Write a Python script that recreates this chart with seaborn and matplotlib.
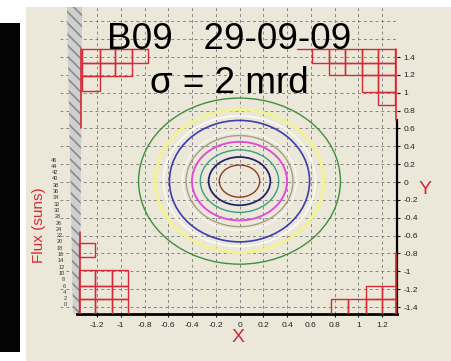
import numpy as np
import pandas as pd
import matplotlib
matplotlib.use("Agg")
import matplotlib.pyplot as plt
import seaborn as sns
from matplotlib.patches import Ellipse, Polygon, Rectangle

# ---------------- data ----------------
title_text = "B09   29-09-09"
subtitle_text = "\u03c3 = 2 mrd"
x_ticks = [-1.2, -1.0, -0.8, -0.6, -0.4, -0.2, 0.0, 0.2, 0.4, 0.6, 0.8, 1.0, 1.2]
y_ticks = [-1.4, -1.2, -1.0, -0.8, -0.6, -0.4, -0.2, 0.0, 0.2, 0.4, 0.6, 0.8, 1.0, 1.2, 1.4]
y_extra_grid = [1.6, 1.8]
flux_ticks = list(range(0, 47, 2))

# contour rings, outer -> inner
contour_colors = ["#3f8f3f", "#f3f196", "#fbfbf4", "#3c3cb4", "#f6f6f0",
                  "#a89c84", "#e04ed8", "#3c9c84", "#24246c", "#8c3c24"]
contour_widths = [1.0, 2.2, 1.2, 1.2, 1.0, 1.0, 1.4, 1.0, 1.3, 1.0]
contour_rx = [0.85, 0.71, 0.64, 0.59, 0.48, 0.45, 0.40, 0.33, 0.26, 0.17]
contour_ry = [0.93, 0.80, 0.73, 0.68, 0.55, 0.51, 0.44, 0.35, 0.27, 0.18]
contour_center = (0.0, 0.01)

# corner projection "lego" histograms (column edges, row levels, cells per column)
tr_edges = [0.611, 0.754, 0.888, 1.032, 1.166, 1.309]
tr_rows = [1.49, 1.333, 1.198, 1.008, 0.862]
tr_cells = [1, 2, 2, 3, 4]

tl_edges = [-1.326, -1.175, -1.048, -0.905, -0.771]
tl_rows = [1.49, 1.333, 1.187, 1.019]
tl_cells = [3, 2, 2, 1]

bl_edges = [-1.352, -1.217, -1.074, -0.939]
bl_rows = [-1.478, -1.31, -1.164, -0.985]
bl_cells = [3, 3, 3]

br_edges = [0.771, 0.914, 1.065, 1.2, 1.326]
br_rows = [-1.478, -1.31, -1.164]
br_cells = [1, 1, 2, 2]

RED = "#d42a35"
BEIGE = "#ebe8da"

# ---------------- figure ----------------
sns.set_theme(style="white")
plt.rcParams["font.family"] = ["Liberation Sans", "DejaVu Sans"]
plt.rcParams["hatch.linewidth"] = 1.2

fig = plt.figure(figsize=(4.52, 3.61), dpi=100)
fig.patch.set_facecolor("white")
# background panels
fig.patches.append(Rectangle((26 / 452, 0), 1 - 26 / 452, 1 - 7 / 361,
                             transform=fig.transFigure, facecolor=BEIGE,
                             edgecolor="none", zorder=-10))
fig.patches.append(Rectangle((0, 1 - 352 / 361), 20 / 452, (352 - 23) / 361,
                             transform=fig.transFigure, facecolor="#050505",
                             edgecolor="none", zorder=-10))

ax = fig.add_axes([60 / 452, 1 - 314 / 361, (397 - 60) / 452, (314 - 7) / 361])
ax.set_zorder(5)
ax.set_facecolor("none")
ax.set_xlim(-1.5116, 1.3263)
ax.set_ylim(-1.478, 1.96)

# grid
grid_kw = dict(color="#858585", lw=0.7, ls=(0, (3, 3)), zorder=1)
for xv in x_ticks:
    ax.axvline(xv, **grid_kw)
for yv in y_ticks + y_extra_grid:
    ax.axhline(yv, **grid_kw)

# contour rings
for c, lw, rx, ry in zip(contour_colors, contour_widths, contour_rx, contour_ry):
    ax.add_patch(Ellipse(contour_center, 2 * rx, 2 * ry, fill=False,
                         edgecolor=c, lw=lw, zorder=3))

# corner lego histograms
def draw_cells(edges, rows, cells):
    for i, n in enumerate(cells):
        x0, x1 = edges[i], edges[i + 1]
        for k in range(n):
            y0, y1 = sorted([rows[k], rows[k + 1]])
            ax.bar(x0, y1 - y0, width=x1 - x0, bottom=y0, align="edge",
                   fill=False, edgecolor=RED, lw=1.0, zorder=4)

draw_cells(tr_edges, tr_rows, tr_cells)
draw_cells(tl_edges, tl_rows, tl_cells)
draw_cells(bl_edges, bl_rows, bl_cells)
draw_cells(br_edges, br_rows, br_cells)
ax.add_patch(Rectangle((-1.352, -0.84), 0.135, 0.157, fill=False,
                       edgecolor=RED, lw=1.0, zorder=4))
ax.plot([0.484, 0.611], [1.49, 1.49], color=RED, lw=1.0, zorder=4)
ax.plot([-1.335, -1.335], [1.49, 0.605], color=RED, lw=1.2, zorder=4)
ax.plot([-1.345, -1.345], [-1.478, -0.56], color=RED, lw=1.2, zorder=4)
ax.plot([1.315, 1.315], [1.49, 0.7], color=RED, lw=1.2, zorder=5)
ax.plot([1.315, 1.315], [-1.478, -0.8], color=RED, lw=1.2, zorder=5)

# left grey hatched band
band = Polygon([(-1.453, 1.96), (-1.326, 1.96), (-1.343, -1.478), (-1.402, -1.478)],
               closed=True, facecolor="#cfcfcf", edgecolor="#8a8a8a",
               hatch="\\\\\\", lw=0, zorder=2)
ax.add_patch(band)

# spines & ticks
for s in ["top", "left"]:
    ax.spines[s].set_visible(False)
ax.spines["bottom"].set_color("black")
ax.spines["bottom"].set_linewidth(2.0)
ax.spines["bottom"].set_bounds(-1.37, 1.3263)
ax.spines["right"].set_color("black")
ax.spines["right"].set_linewidth(1.6)
ax.spines["right"].set_bounds(-1.478, 0.7)

fmt = lambda v: f"{v:g}"
ax.set_xticks(x_ticks)
ax.set_xticklabels([fmt(v) for v in x_ticks])
ax.yaxis.tick_right()
ax.set_yticks(y_ticks)
ax.set_yticklabels([fmt(v) for v in y_ticks])
ax.tick_params(axis="both", labelsize=6, length=2.5, width=0.8, color="black",
               pad=2, direction="out", labelcolor="#222222")
ax.tick_params(axis="x", bottom=True, pad=3)
ax.tick_params(axis="y", right=True, left=False)

# texts
fig.text(229.5 / 452, 1 - 49 / 361, title_text, ha="center", va="baseline",
         fontsize=26.6, color="black", zorder=10)
fig.text(229 / 452, 1 - 93 / 361, subtitle_text, ha="center", va="baseline",
         fontsize=26.6, color="black", zorder=10)
fig.text(238 / 452, 1 - 337 / 361, "X", ha="center", va="center",
         fontsize=14, color=RED)
fig.text(425 / 452, 1 - 190 / 361, "Y", ha="center", va="center",
         fontsize=14, color=RED)
fig.text(39 / 452, 1 - 225 / 361, "Flux (suns)", ha="center", va="center",
         rotation=90, fontsize=11, color=RED)
for v in flux_ticks:
    ypx = 305 - v * (145 / 46)
    xpx = 67 - v * (10 / 46)
    fig.text(xpx / 452, 1 - ypx / 361, str(v), ha="right", va="center",
             fontsize=4, color="#333333")

fig.savefig("out.png", dpi=100, facecolor="white")
